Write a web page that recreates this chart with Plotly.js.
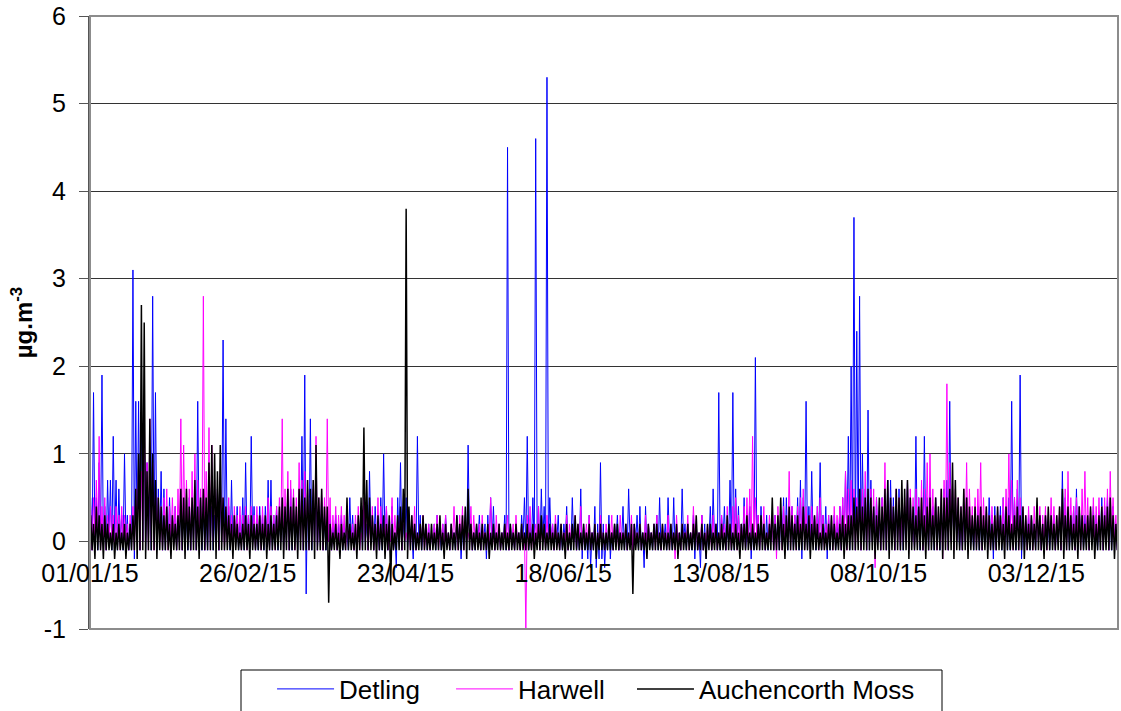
<!DOCTYPE html>
<html>
<head>
<meta charset="utf-8">
<script src="https://cdn.plot.ly/plotly-3.0.1.min.js"></script>
<style>html,body{margin:0;padding:0;background:#fff;}#chart{width:1121px;height:711px;}</style>
</head>
<body>
<div id="chart"></div>
<script>
// Daily maximum / minimum hourly values (µg.m-3) for 2015, one row per month
const detlingMax = [
 .5,1.7,.5,.9,1.9,.4,.7,.7,1.2,.7, .6,.3,1,.3,.2,3.1,1.6,1.6,1.5,1.3, .9,.6,2.8,1.7,.6,.8,.6,.4,.5,.3, .4,
 .3,.5,.4,.3,.5,.4,.6,1.6,.5,.4, .3,.5,.4,.3,.6,.5,2.3,1.4,.4,.7, .3,.4,.3,.5,.9,.3,1.2,.4,
 .3,.4,.3,.4,.7,.7,.3,.4,.3,.5, .4,.6,.6,.4,.3,.5,1.2,1.9,.6,1.4, .5,.7,.4,.5,.3,.2,.3,.2,.3,.2, .3,
 .2,.1,.5,.3,.1,.2,.4,.4,.2,.8, .3,.4,.1,.5,1,.4,.2,.4,.1,.5, .9,.2,.5,.3,.1,.2,1.2,.3,.1,.2,
 .2,.1,.2,.3,.1,.2,.3,.1,.2,.1, .3,.2,.1,.3,1.1,.2,.1,.2,.3,.1, .2,.3,.5,.4,.1,.2,.1,.3,4.5,.2, .1,
 .2,.1,.3,.5,1.2,.2,.5,4.6,.4,.6, .4,5.3,.5,.2,.1,.3,.1,.2,.4,.1, .5,.2,.1,.6,.2,.1,.3,.1,.4,.2,
 .9,.2,.1,.3,.1,.2,.3,.1,.4,.2, .6,.1,.2,.3,.4,.1,.4,.2,.1,.2, .3,.5,.1,.2,.5,.1,.5,.2,.1,.6, .2,
 .2,.1,.3,.2,.1,.3,.2,.1,.4,.6, .2,1.7,.3,.4,.1,.7,1.7,.6,.4,.2, .5,.1,.4,.2,2.1,.3,.4,.1,.3,.2, .3,
 .3,.2,.3,.5,.5,.3,.4,.3,.5,.7, .5,1.6,.4,.8,.3,.4,.9,.3,.4,.3, .2,.3,.2,.4,.5,.8,1.2,2,3.7,2.4,
 2.8,1,.6,1.5,.7,.4,.5,.3,.5,.4, .7,.7,.5,.4,.6,.5,.4,.7,.5,.3, 1.2,.5,.4,1.2,.5,.6,.4,.5,.3,.5, .6,
 .7,1.6,.6,.5,.4,.3,.4,.5,.3,.2, .3,.4,.3,.2,.3,.5,.3,.4,.3,.4, .5,.4,.5,1.6,.5,.6,1.9,.3,.2,.3,
 .3,.2,.4,.3,.2,.3,.2,.3,.3,.2, .3,.8,.5,.4,.3,.4,.6,.4,.3,.3, .2,.3,.4,.3,.3,.5,.4,.5,.3,.4, .2
];
const detlingMin = [
 -.1,0,-.1,0,-.1,-.1,0,-.1,0,-.1, 0,-.1,0,-.1,-.1,-.2,0,-.1,0,-.1, 0,-.1,0,-.1,0,-.1,-.1,0,-.1,0, -.1,
 0,-.1,0,-.1,-.1,0,-.1,0,-.1,-.1, -.1,0,-.1,0,-.1,0,-.1,0,-.1,-.1, 0,-.1,0,-.1,0,-.1,0,-.1,
 -.1,0,-.1,0,-.1,-.1,0,-.1,0,-.1, 0,-.1,-.1,0,-.1,0,-.1,-.6,0,-.1, 0,-.1,0,-.1,-.1,0,-.1,0,-.1,0, -.1,
 0,-.1,0,-.1,-.1,0,-.1,0,-.1,0, -.1,0,-.1,-.1,0,-.1,0,-.1,-.3,0, -.1,0,-.1,0,-.2,-.1,0,-.1,0,-.1,
 -.1,0,-.1,0,-.1,-.1,0,-.1,0,-.1, 0,-.2,0,-.1,0,-.1,-.1,0,-.1,0, -.2,-.1,0,-.1,0,-.1,0,-.1,-.1,0, -.1,
 0,-.1,0,-.1,-.1,0,-.1,0,-.1,0, -.1,-.1,0,-.1,0,-.1,-.1,0,-.1,-.1, 0,-.1,-.1,-.2,-.1,-.2,-.3,-.1,-.3,-.2,
 -.2,-.3,-.1,-.2,-.1,0,-.1,0,-.1,-.1, 0,-.1,0,-.1,-.1,-.3,-.1,0,-.1,0, -.1,-.1,0,-.1,0,-.1,-.1,0,-.1,0, -.1,
 0,-.1,-.2,-.1,-.3,-.1,-.2,0,-.1,0, -.1,-.1,0,-.1,0,-.1,-.1,0,-.1,0, -.1,0,-.2,-.1,0,-.1,0,-.1,-.1,0, -.1,
 0,-.1,0,-.1,-.1,0,-.1,0,-.1,-.2, 0,-.1,-.1,0,-.1,0,-.1,0,-.2,-.1, 0,-.1,0,-.1,-.1,0,-.1,0,-.1,0,
 -.1,0,-.1,-.1,0,-.1,0,-.1,0,-.1, -.1,0,-.1,0,-.1,-.1,0,-.1,0,-.1, 0,-.1,-.1,0,-.1,0,-.1,0,-.1,-.1, 0,
 -.1,0,-.1,0,-.1,-.1,0,-.1,0,-.1, 0,-.1,-.1,0,-.1,0,-.2,-.1,0,-.1, 0,-.1,-.1,0,-.1,0,-.2,-.1,0,-.1,
 0,-.1,0,-.1,-.1,0,-.1,0,-.1,0, -.1,-.1,0,-.1,0,-.1,-.1,0,-.1,0, -.1,0,-.1,-.1,0,-.1,0,-.1,-.1,0, -.1
];
const harwellMax = [
 .4,.5,.7,1.2,.4,.5,.3,.4,.3,.4, .3,.4,.3,.2,.3,.4,.6,.9,.8,1.6, .9,1.4,.9,.6,.5,.4,.5,.6,.4,.5, .4,
 .6,1.4,1.1,.7,.6,.8,1,.7,.6,2.8, .8,1.3,1.1,.7,.6,.8,.5,.4,.5,.3, .4,.3,.4,.3,.4,.3,.4,.3,
 .4,.3,.4,.3,.5,.4,.3,.4,.5,1.4, .6,.8,.7,.6,.5,.9,.7,.8,.6,.5, .6,1.2,.5,.6,.5,1.4,.5,.3,.4,.3, .4,
 .3,.2,.1,.2,.3,.4,.1,.5,.4,.2, .4,.1,.5,.4,.2,.4,.1,.5,.3,.2, .3,.4,.1,.2,.3,.4,.1,.2,.3,.1,
 .2,.1,.2,.3,.1,.2,.3,.1,.2,.4, .1,.3,.4,.2,.1,.4,.3,.1,.2,.3, .1,.2,.5,.1,.3,.2,.1,.2,.3,.1, .2,
 .3,.1,.2,.1,.3,.4,.1,.2,.4,.1, .2,.3,.1,.2,.3,.1,.2,.1,.3,.2, .1,.3,.2,.4,.1,.2,.3,.1,.2,.1,
 .3,.1,.2,.1,.3,.2,.1,.3,.1,.2, .1,.3,.2,.1,.2,.1,.3,.2,.1,.2, .3,.1,.2,.1,.3,.2,.1,.3,.1,.2, .1,
 .3,.1,.4,.2,.1,.3,.1,.2,.1,.3, .2,.1,.3,.2,.4,.1,.4,.5,.3,.2, .4,.5,.6,1.2,.5,.3,.2,.4,.1,.3, .2,
 .3,.4,.3,.4,.3,.8,.4,.3,.4,.5, .6,.4,.3,.4,.3,.4,.5,.3,.2,.3, .3,.4,.3,.4,.5,.8,.6,.7,.6,.5,
 .5,.6,.8,.5,.6,.6,.5,.4,.5,.9, .6,.5,.4,.6,.5,.4,.5,.7,.6,.5, .6,.5,.7,.6,.9,1,.6,.5,.4,.6, .7,
 1.8,.9,.7,.6,.5,.4,.6,.9,.6,.4, .5,.6,.9,.5,.4,.3,.4,.3,.4,.3, .5,.6,1,.7,.5,.7,.5,.4,.3,.4,
 .3,.4,.3,.4,.3,.4,.3,.5,.4,.3, .4,.5,.6,.8,.5,.4,.5,.4,.6,.8, .5,.4,.5,.4,.5,.4,.5,.6,.8,.5, .3
];
const harwellMin = [
 -.1,0,0,-.1,0,-.1,0,0,-.1,0, -.1,0,0,-.1,0,-.1,0,-.1,0,0, -.1,0,-.1,0,0,-.1,0,-.1,0,0, -.1,
 0,-.1,0,0,-.1,0,-.1,0,0,-.1, 0,-.1,0,0,-.1,0,-.1,0,0,-.1, 0,0,-.1,0,-.1,0,0,-.1,
 0,-.1,0,0,-.1,0,-.1,0,0,-.1, 0,-.1,0,-.1,0,0,-.1,0,-.1,0, 0,-.1,0,-.1,0,0,-.1,0,-.1,0, 0,
 -.1,0,0,-.1,0,-.1,0,0,-.1,0, -.1,0,-.1,0,0,-.1,0,-.1,0,0, -.1,0,0,-.1,0,-.1,0,0,-.1,0,
 -.1,0,0,-.1,0,-.1,0,-.1,0,0, -.1,0,-.1,0,0,-.1,0,0,-.1,0, -.1,0,0,-.1,0,-.1,0,0,-.1,0, -.1,
 0,-.1,0,-1,0,-.1,0,0,-.1,0, -.1,0,0,-.1,0,-.1,0,0,-.1,0, 0,-.1,0,-.1,0,0,-.1,0,-.1,0,
 0,-.1,0,0,-.1,0,-.1,0,0,-.1, 0,-.1,0,0,-.1,0,-.1,0,0,-.1, 0,-.1,0,0,-.1,0,-.2,0,-.1,0, 0,
 -.1,0,0,-.1,0,-.1,0,0,-.1,0, -.1,0,0,-.1,0,-.1,0,-.1,0,0, -.1,0,-.1,0,0,-.1,0,-.1,0,0, -.1,
 -.2,0,-.1,0,0,-.1,0,-.1,0,0, -.1,0,-.1,0,0,-.1,0,-.1,0,0, -.1,0,0,-.1,0,-.1,0,0,-.1,0,
 -.1,0,-.1,0,0,-.3,0,-.1,0,-.1, 0,0,-.1,0,-.1,0,0,-.1,0,-.1, 0,0,-.1,0,-.1,0,0,-.1,0,-.2, 0,
 -.1,0,-.1,0,0,-.1,0,-.1,0,0, -.1,0,-.1,0,0,-.1,0,-.1,0,0, -.1,0,0,-.1,0,-.1,0,0,-.1,0,
 -.1,0,0,-.1,0,-.1,0,0,-.1,0, -.1,0,-.1,0,0,-.1,0,-.1,0,0, -.1,0,-.1,0,0,-.1,0,-.1,0,0, -.1
];
const auchenMax = [
 .3,.2,.4,.3,.2,.3,.2,.1,.2,.1, .2,.1,.2,.1,.2,.3,.6,1,2.7,2.5, .8,1.4,1,.7,.5,.4,.3,.4,.2,.3, .2,
 .3,.6,.5,.6,.4,.5,.7,.4,.5,.6, .5,.9,1.1,1,.8,1.1,.5,.4,.3,.2, .3,.2,.1,.2,.3,.2,.3,.2,
 .2,.3,.2,.3,.2,.3,.2,.3,.4,.5, .4,.6,.4,.5,.4,.6,.6,.5,.7,.6, .7,1.1,.5,.6,.4,.4,.2,.1,.2,.1, .2,
 .1,.5,.2,.1,.2,.3,.5,1.3,.7,.5, .3,.2,.3,.2,.3,.2,.3,.2,.1,.3, .4,.6,3.8,.4,.3,.2,.1,.2,.3,.2,
 .1,.2,.1,.2,.3,.1,.2,.1,.2,.1, .3,.2,.3,.4,.6,.2,.1,.2,.1,.2, .1,.2,.1,.2,.1,.2,.1,.2,.1,.2, .1,
 .2,.1,.2,.1,.2,.1,.2,.1,.2,.3, .2,.1,.2,.1,.2,.1,.2,.1,.2,.1, .2,.3,.2,.1,.2,.1,.2,.1,.2,.1,
 .2,.1,.1,.2,.1,.2,.2,.1,.1,.2, .1,.2,.2,.1,.2,.1,.1,.2,.1,.2, .2,.1,.2,.1,.1,.2,.1,.2,.1,.2, .1,
 .2,.1,.2,.3,.1,.2,.1,.2,.2,.1, .2,.1,.2,.1,.3,.2,.1,.2,.1,.2, .2,.3,.1,.2,.1,.2,.3,.2,.1,.2, .5,
 .2,.3,.5,.2,.3,.4,.3,.2,.3,.2, .4,.2,.3,.2,.3,.2,.1,.2,.1,.2, .3,.2,.1,.2,.3,.2,.3,.3,.5,.4,
 .6,.4,.5,.6,.5,.4,.3,.5,.4,.6, .7,.5,.4,.6,.5,.7,.6,.7,.5,.4, .3,.4,.5,.3,.4,.5,.3,.5,.4,.6, .5,
 .5,.6,.9,.7,.5,.4,.6,.5,.4,.3, .4,.3,.4,.3,.4,.3,.2,.3,.4,.3, .2,.4,.3,.2,.3,.4,.3,.4,.3,.2,
 .3,.2,.5,.3,.2,.3,.4,.3,.2,.3, .4,.6,.3,.4,.3,.2,.3,.4,.3,.2, .3,.4,.3,.2,.3,.4,.3,.4,.5,.3, .2
];
const auchenMin = [
 -.1,-.2,-.1,-.1,-.2,-.1,-.1,-.1,-.2,-.1, -.1,-.1,-.2,-.1,-.1,-.1,-.2,-.1,-.1,-.2, -.1,-.1,-.1,-.2,-.1,-.1,-.1,-.1,-.2,-.1, -.1,
 -.1,-.1,-.2,-.1,-.1,-.1,-.1,-.2,-.1,-.1, -.1,-.1,-.1,-.2,-.1,-.1,-.1,-.1,-.1,-.2, -.1,-.1,-.1,-.1,-.1,-.2,-.1,-.1,
 -.1,-.1,-.1,-.2,-.1,-.1,-.1,-.1,-.1,-.2, -.1,-.1,-.1,-.1,-.2,-.1,-.1,-.1,-.1,-.1, -.2,-.1,-.1,-.1,-.1,-.7,-.1,-.1,-.1,-.2, -.1,
 -.1,-.1,-.1,-.1,-.2,-.1,-.1,-.1,-.1,-.1, -.1,-.2,-.1,-.1,-.2,-.1,-.5,-.1,-.1,-.1, -.1,-.1,-.2,-.1,-.1,-.1,-.1,-.1,-.1,-.1,
 -.1,-.1,-.1,-.1,-.1,-.2,-.1,-.1,-.1,-.1, -.1,-.1,-.1,-.2,-.1,-.1,-.1,-.1,-.1,-.1, -.1,-.2,-.1,-.1,-.1,-.1,-.1,-.1,-.1,-.1, -.1,
 -.1,-.1,-.1,-.1,-.1,-.1,-.2,-.1,-.1,-.1, -.1,-.1,-.1,-.1,-.1,-.1,-.1,-.2,-.1,-.1, -.1,-.1,-.1,-.1,-.1,-.1,-.1,-.1,-.2,-.1,
 -.1,-.1,-.1,-.1,-.1,-.1,-.1,-.1,-.1,-.1, -.1,-.6,-.1,-.1,-.1,-.1,-.2,-.1,-.1,-.1, -.1,-.1,-.1,-.1,-.1,-.1,-.1,-.2,-.1,-.1, -.1,
 -.1,-.1,-.1,-.1,-.1,-.1,-.2,-.1,-.1,-.1, -.1,-.1,-.1,-.1,-.1,-.1,-.1,-.1,-.2,-.1, -.1,-.1,-.1,-.1,-.1,-.1,-.1,-.1,-.1,-.1, -.1,
 -.1,-.1,-.1,-.2,-.1,-.1,-.1,-.1,-.1,-.1, -.1,-.1,-.2,-.1,-.1,-.1,-.1,-.1,-.1,-.1, -.1,-.1,-.1,-.1,-.2,-.1,-.1,-.1,-.1,-.1,
 -.1,-.1,-.1,-.1,-.1,-.2,-.1,-.1,-.1,-.1, -.2,-.1,-.1,-.1,-.1,-.1,-.1,-.2,-.1,-.1, -.1,-.1,-.1,-.2,-.1,-.1,-.1,-.1,-.1,-.2, -.1,
 -.1,-.1,-.2,-.1,-.1,-.1,-.1,-.2,-.1,-.1, -.1,-.1,-.1,-.1,-.2,-.1,-.1,-.1,-.1,-.1, -.2,-.1,-.1,-.1,-.1,-.1,-.1,-.2,-.1,-.1,
 -.1,-.1,-.1,-.1,-.2,-.1,-.1,-.1,-.1,-.1, -.1,-.2,-.1,-.1,-.1,-.1,-.2,-.1,-.1,-.1, -.1,-.1,-.2,-.1,-.1,-.1,-.1,-.1,-.1,-.2, -.1
];
const seriesNames = ['Detling', 'Harwell', 'Auchencorth Moss'];
const tickDates = ['2015-01-01','2015-02-26','2015-04-23','2015-06-18','2015-08-13','2015-10-08','2015-12-03'];
const tickLabels = ['01/01/15','26/02/15','23/04/15','18/06/15','13/08/15','08/10/15','03/12/15'];
const yTicks = [-1, 0, 1, 2, 3, 4, 5, 6];
const yTickLabels = ['-1', '0', '1', '2', '3', '4', '5', '6'];

[detlingMax, detlingMin, harwellMax, harwellMin, auchenMax, auchenMin].forEach((a, i) => {
  if (a.length !== 365) throw new Error('array ' + i + ' has length ' + a.length);
});

const start = Date.UTC(2015, 0, 1);
function build(maxArr, minArr) {
  const xs = [], ys = [];
  for (let d = 0; d < maxArr.length; d++) {
    const t = start + d * 86400000;
    xs.push(new Date(t + 6 * 3600000).toISOString());
    ys.push(maxArr[d]);
    xs.push(new Date(t + 18 * 3600000).toISOString());
    ys.push(minArr[d]);
  }
  return {xs, ys};
}
const colors = ['#0000FF', '#FF00FF', '#000000'];
const widths = [1, 1, 1.5];
const legendIds = ['legend', 'legend2', 'legend3'];
const pairs = [[detlingMax, detlingMin], [harwellMax, harwellMin], [auchenMax, auchenMin]];
const traces = pairs.map((p, i) => {
  const b = build(p[0], p[1]);
  return {x: b.xs, y: b.ys, type: 'scatter', mode: 'lines', name: seriesNames[i],
          legend: legendIds[i], line: {color: colors[i], width: widths[i]}, hoverinfo: 'skip'};
});

const FONT = 'Liberation Sans, Arial, sans-serif';
function legendAt(x) {
  return {orientation: 'h', x: x, xanchor: 'left', yref: 'container', y: 0.064, yanchor: 'top',
          borderwidth: 0, bgcolor: 'rgba(0,0,0,0)', itemwidth: 57,
          font: {family: FONT, size: 26, color: '#000000'}};
}
const layout = {
  width: 1121, height: 711,
  margin: {l: 90, r: 3, t: 16, b: 82},
  paper_bgcolor: '#ffffff', plot_bgcolor: '#ffffff',
  font: {family: FONT, color: '#000000'},
  showlegend: true,
  legend: legendAt(0.1771),
  legend2: legendAt(0.3512),
  legend3: legendAt(0.5272),
  xaxis: {type: 'date', range: ['2015-01-01', '2016-01-01'], anchor: 'free', position: 1/7,
          tickvals: tickDates, ticktext: tickLabels, showgrid: false, zeroline: false,
          showline: false, ticks: 'outside', ticklen: 6, tickcolor: 'rgba(0,0,0,0)',
          ticklabelstandoff: 4,
          tickfont: {family: FONT, size: 25, color: '#000000'}},
  yaxis: {range: [-1, 6], tickvals: yTicks, ticktext: yTickLabels, showgrid: true, gridcolor: '#333333', gridwidth: 1,
          zeroline: true, zerolinecolor: '#808080', zerolinewidth: 1,
          ticks: 'outside', ticklen: 9, tickcolor: '#555555', tickwidth: 1, ticklabelstandoff: 8,
          showline: true, linecolor: '#555555', linewidth: 2,
          tickfont: {family: FONT, size: 25, color: '#000000'},
          title: {text: '<b>µg.m<sup>-3</sup></b>', font: {family: FONT, size: 24, color: '#000000'}, standoff: 4}},
  shapes: [
    {type: 'rect', xref: 'paper', yref: 'paper', x0: 0, x1: 1, y0: 0, y1: 1,
     line: {color: '#8c8c8c', width: 2}, layer: 'above'},
    {type: 'rect', xref: 'paper', yref: 'paper', x0: 0.1469, x1: 0.8288, y0: -0.2, y1: -0.0669,
     line: {color: '#000000', width: 1}, fillcolor: 'rgba(0,0,0,0)', layer: 'below'}
  ]
};
Plotly.newPlot('chart', traces, layout, {displayModeBar: false, staticPlot: true});
</script>
</body>
</html>
